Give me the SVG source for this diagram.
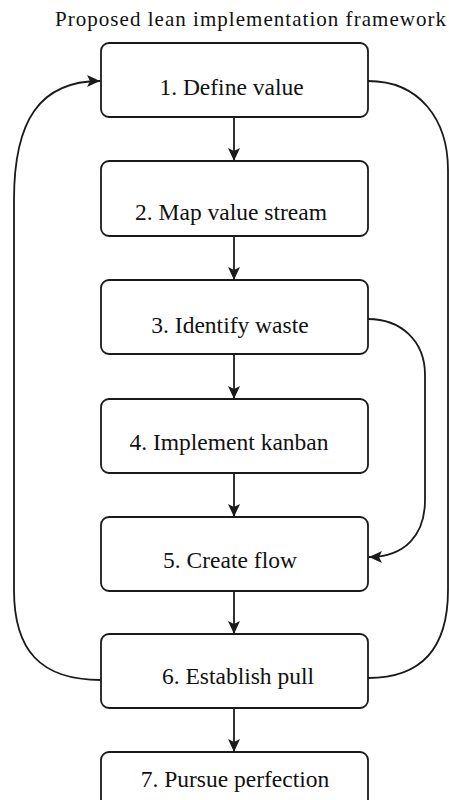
<svg xmlns="http://www.w3.org/2000/svg" width="449" height="800" viewBox="0 0 449 800">
<style>
.box{fill:#fff;stroke:#1a1a1a;stroke-width:1.8}
.lbl{font-family:"Liberation Serif","Times New Roman",serif;font-size:23.5px;fill:#111;text-anchor:middle}
.ttl{font-family:"Liberation Serif","Times New Roman",serif;font-size:21px;fill:#111}
.ln{fill:none;stroke:#1a1a1a;stroke-width:1.8}
</style>
<defs>
<marker id="ah" markerWidth="14" markerHeight="12" refX="13" refY="6" orient="auto" markerUnits="userSpaceOnUse">
<path d="M0,0 L13,6 L0,12 L3,6 Z" fill="#1a1a1a"/>
</marker>
</defs>
<rect width="449" height="800" fill="#fff"/>
<text class="ttl" x="55" y="26" textLength="391">Proposed lean implementation framework</text>
<g id="connectors">
<line class="ln" x1="234" y1="117" x2="234" y2="161" marker-end="url(#ah)"/>
<line class="ln" x1="234" y1="236" x2="234" y2="280" marker-end="url(#ah)"/>
<line class="ln" x1="234" y1="354" x2="234" y2="399" marker-end="url(#ah)"/>
<line class="ln" x1="234" y1="473" x2="234" y2="517" marker-end="url(#ah)"/>
<line class="ln" x1="234" y1="591" x2="234" y2="634" marker-end="url(#ah)"/>
<line class="ln" x1="234" y1="708" x2="234" y2="752" marker-end="url(#ah)"/>
<path class="ln" d="M101,680 C40,680 14,650 14,590 L14,200 C14,120 40,81 100,81" marker-end="url(#ah)"/>
<path class="ln" d="M368,81 C420,81 448,120 448,170 L448,590 C448,650 420,678 368,678"/>
<path class="ln" d="M368,319 C400,319 425,340 425,375 L425,500 C425,535 405,557 369,557" marker-end="url(#ah)"/>
</g>
<g id="n1"><rect class="box" x="101" y="43" width="267" height="74" rx="8"/><text class="lbl" x="231.5" y="94.5">1. Define value</text></g>
<g id="n2"><rect class="box" x="101" y="161" width="267" height="75" rx="8"/><text class="lbl" x="231" y="220">2. Map value stream</text></g>
<g id="n3"><rect class="box" x="101" y="280" width="267" height="74" rx="8"/><text class="lbl" x="230" y="333">3. Identify waste</text></g>
<g id="n4"><rect class="box" x="101" y="399" width="267" height="74" rx="8"/><text class="lbl" x="229" y="450">4. Implement kanban</text></g>
<g id="n5"><rect class="box" x="101" y="517" width="267" height="74" rx="8"/><text class="lbl" x="230" y="568">5. Create flow</text></g>
<g id="n6"><rect class="box" x="101" y="634" width="267" height="74" rx="8"/><text class="lbl" x="238" y="684">6. Establish pull</text></g>
<g id="n7"><rect class="box" x="101" y="752" width="267" height="74" rx="8"/><text class="lbl" x="235" y="787">7. Pursue perfection</text></g>
</svg>
